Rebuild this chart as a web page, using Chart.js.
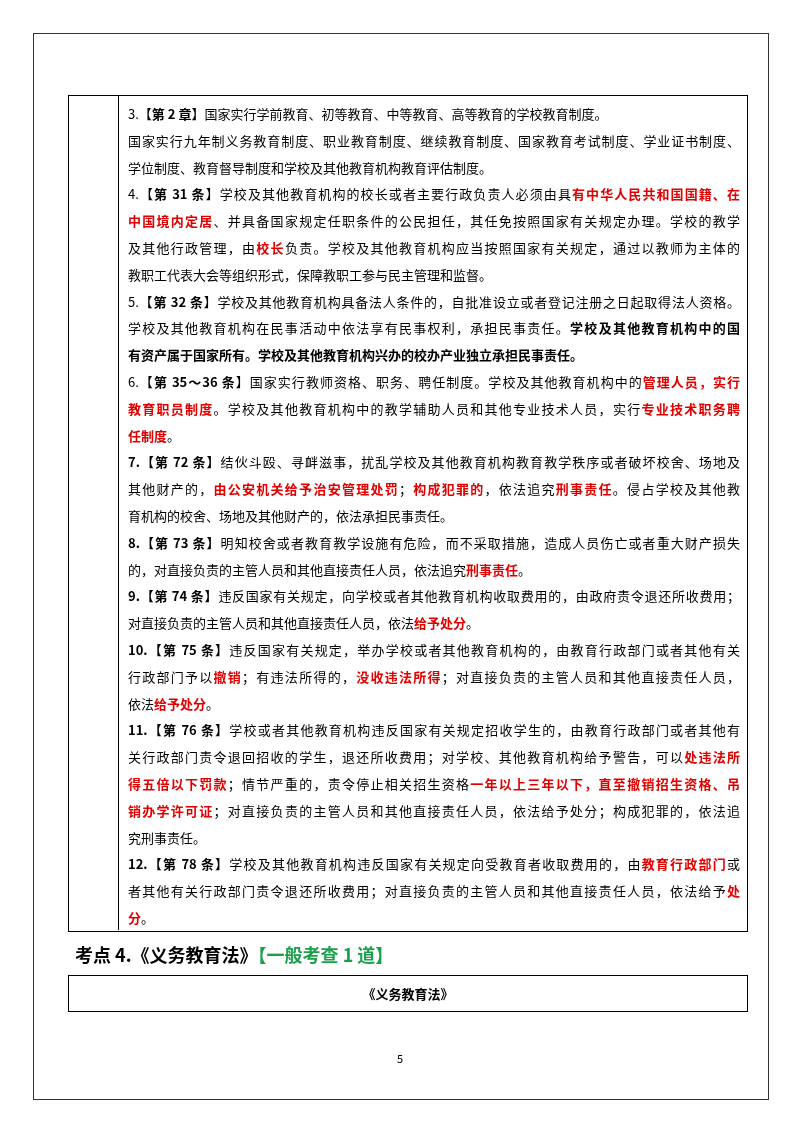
<!DOCTYPE html>
<html><head><meta charset="utf-8">
<script src="https://cdn.jsdelivr.net/npm/chart.js@4"></script>
<style>
body{margin:0;width:800px;height:1132px;background:#fff;font-family:"Noto Sans CJK SC","Liberation Serif",serif;position:relative;overflow:hidden}
.abs{position:absolute}
.ln{position:absolute;left:128px;width:612px;font-size:13px;line-height:18px;white-space:nowrap;color:#000}
.j{text-align:justify;text-align-last:justify;white-space:normal}
.r{color:#e00000;font-weight:bold}
.b{font-weight:bold}
#bg{position:absolute;left:0;top:0}
</style></head><body>
<canvas id="bg" width="800" height="1132"></canvas>
<div class="abs" style="left:33px;top:33px;width:734px;height:1065px;border:1px solid #333"></div>
<div class="abs" style="left:68px;top:95px;width:678px;height:835px;border:1px solid #000"></div>
<div class="abs" style="left:118px;top:95px;width:0;height:835px;border-left:1px solid #000"></div>
<div class="abs" style="left:75px;top:941px;font-size:18px;font-weight:bold">考点 4.《义务教育法》<span style="color:#1aa04a">【一般考查 1 道】</span></div>
<div class="abs" style="left:68px;top:975px;width:678px;height:35px;border:1px solid #000;text-align:center;line-height:35px;font-size:13px;font-weight:bold">《义务教育法》</div>
<div class="abs" style="left:0;width:800px;top:1050px;text-align:center;font-size:11px">5</div>
<div id="txt"></div>
<script>
// each line: [justified, segments [style, text]]
const lines = [
 [0,[["","3.【"],["b","第 2 章"],["","】国家实行学前教育、初等教育、中等教育、高等教育的学校教育制度。"]]],
 [1,[["","国家实行九年制义务教育制度、职业教育制度、继续教育制度、国家教育考试制度、学业证书制度、"]]],
 [0,[["","学位制度、教育督导制度和学校及其他教育机构教育评估制度。"]]],
 [1,[["","4.【"],["b","第 31 条"],["","】学校及其他教育机构的校长或者主要行政负责人必须由具"],["r","有中华人民共和国国籍、在"]]],
 [1,[["r","中国境内定居"],["","、并具备国家规定任职条件的公民担任，其任免按照国家有关规定办理。学校的教学"]]],
 [1,[["","及其他行政管理，由"],["r","校长"],["","负责。学校及其他教育机构应当按照国家有关规定，通过以教师为主体的"]]],
 [0,[["","教职工代表大会等组织形式，保障教职工参与民主管理和监督。"]]],
 [1,[["","5.【"],["b","第 32 条"],["","】学校及其他教育机构具备法人条件的，自批准设立或者登记注册之日起取得法人资格。"]]],
 [1,[["","学校及其他教育机构在民事活动中依法享有民事权利，承担民事责任。"],["b","学校及其他教育机构中的国"]]],
 [0,[["b","有资产属于国家所有。学校及其他教育机构兴办的校办产业独立承担民事责任。"]]],
 [1,[["","6.【"],["b","第 35～36 条"],["","】国家实行教师资格、职务、聘任制度。学校及其他教育机构中的"],["r","管理人员，实行"]]],
 [1,[["r","教育职员制度"],["","。学校及其他教育机构中的教学辅助人员和其他专业技术人员，实行"],["r","专业技术职务聘"]]],
 [0,[["r","任制度"],["","。"]]],
 [1,[["b","7.【第 72 条】"],["","结伙斗殴、寻衅滋事，扰乱学校及其他教育机构教育教学秩序或者破坏校舍、场地及"]]],
 [1,[["","其他财产的，"],["r","由公安机关给予治安管理处罚"],["","；"],["r","构成犯罪的"],["","，依法追究"],["r","刑事责任"],["","。侵占学校及其他教"]]],
 [0,[["","育机构的校舍、场地及其他财产的，依法承担民事责任。"]]],
 [1,[["b","8.【第 73 条】"],["","明知校舍或者教育教学设施有危险，而不采取措施，造成人员伤亡或者重大财产损失"]]],
 [0,[["","的，对直接负责的主管人员和其他直接责任人员，依法追究"],["r","刑事责任"],["","。"]]],
 [1,[["b","9.【第 74 条】"],["","违反国家有关规定，向学校或者其他教育机构收取费用的，由政府责令退还所收费用；"]]],
 [0,[["","对直接负责的主管人员和其他直接责任人员，依法"],["r","给予处分"],["","。"]]],
 [1,[["b","10.【第 75 条】"],["","违反国家有关规定，举办学校或者其他教育机构的，由教育行政部门或者其他有关"]]],
 [1,[["","行政部门予以"],["r","撤销"],["","；有违法所得的，"],["r","没收违法所得"],["","；对直接负责的主管人员和其他直接责任人员，"]]],
 [0,[["","依法"],["r","给予处分"],["","。"]]],
 [1,[["b","11.【第 76 条】"],["","学校或者其他教育机构违反国家有关规定招收学生的，由教育行政部门或者其他有"]]],
 [1,[["","关行政部门责令退回招收的学生，退还所收费用；对学校、其他教育机构给予警告，可以"],["r","处违法所"]]],
 [1,[["r","得五倍以下罚款"],["","；情节严重的，责令停止相关招生资格"],["r","一年以上三年以下，直至撤销招生资格、吊"]]],
 [1,[["r","销办学许可证"],["","；对直接负责的主管人员和其他直接责任人员，依法给予处分；构成犯罪的，依法追"]]],
 [0,[["","究刑事责任。"]]],
 [1,[["b","12.【第 78 条】"],["","学校及其他教育机构违反国家有关规定向受教育者收取费用的，由"],["r","教育行政部门"],["","或"]]],
 [1,[["","者其他有关行政部门责令退还所收费用；对直接负责的主管人员和其他直接责任人员，依法给予"],["r","处"]]],
 [0,[["r","分"],["","。"]]]
];
const t = document.getElementById('txt');
lines.forEach((l,i)=>{
  const d=document.createElement('div');
  d.className='ln'+(l[0]?' j':'');
  d.style.top=(105+i*26.8)+'px';
  l[1].forEach(s=>{const sp=document.createElement('span');if(s[0])sp.className=s[0];sp.textContent=s[1];d.appendChild(sp);});
  t.appendChild(d);
});
new Chart(document.getElementById('bg'),{type:'scatter',data:{datasets:[]},
 options:{responsive:false,animation:false,plugins:{legend:{display:false},tooltip:{enabled:false}},
 scales:{x:{display:false},y:{display:false}}}});
</script>
</body></html>
